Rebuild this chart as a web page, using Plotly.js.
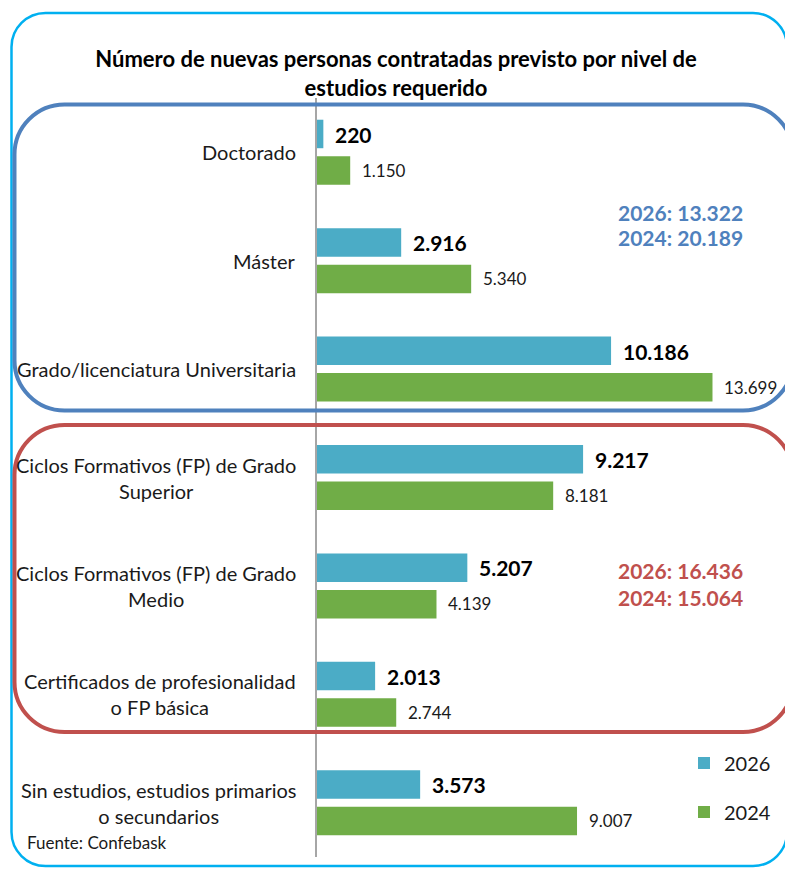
<!DOCTYPE html>
<html>
<head>
<meta charset="utf-8">
<script src="https://cdn.plot.ly/plotly-3.0.1.min.js"></script>
<style>
  html, body { margin: 0; padding: 0; background: #ffffff; }
  #chart { width: 785px; height: 870px; }
</style>
</head>
<body>
<div id="chart"></div>
<script>
// ---- DATA ----
const categories = [
  'Doctorado',
  'Máster',
  'Grado/licenciatura Universitaria',
  'Ciclos Formativos (FP) de Grado<br>Superior',
  'Ciclos Formativos (FP) de Grado<br>Medio',
  'Certificados de profesionalidad<br>o FP básica',
  'Sin estudios, estudios primarios<br>o secundarios'
];
const values2026 = [220, 2916, 10186, 9217, 5207, 2013, 3573];
const values2024 = [1150, 5340, 13699, 8181, 4139, 2744, 9007];
const seriesNames = ['2026', '2024'];
const groupTotals2026 = [13322, 16436];   // universitarios, FP
const groupTotals2024 = [20189, 15064];
const titleText = 'Número de nuevas personas contratadas previsto por nivel de<br>estudios requerido';
const sourceText = 'Fuente: Confebask';

// ---- STYLE / GEOMETRY ----
const W = 785, H = 870;
const M = {l: 317, r: 0, t: 98, b: 13};
const PW = W - M.l - M.r, PH = H - M.t - M.b;
const FONT = 'Lato, Carlito, Calibri, sans-serif';
const C2026 = '#4BACC6', C2024 = '#70AD47';

function px2x(px) { return (px - M.l) / PW; }
function py2y(py) { return 1 - (py - M.t) / PH; }
function fmt(v) { return String(v).replace(/\B(?=(\d{3})+(?!\d))/g, '.'); }

function roundRect(x0, y0, x1, y1, r) {
  const k = 0.5523 * r;
  const P = (x, y) => px2x(x).toFixed(5) + ',' + py2y(y).toFixed(5);
  return 'M' + P(x0 + r, y0) +
    ' L' + P(x1 - r, y0) +
    ' C' + P(x1 - r + k, y0) + ' ' + P(x1, y0 + r - k) + ' ' + P(x1, y0 + r) +
    ' L' + P(x1, y1 - r) +
    ' C' + P(x1, y1 - r + k) + ' ' + P(x1 - r + k, y1) + ' ' + P(x1 - r, y1) +
    ' L' + P(x0 + r, y1) +
    ' C' + P(x0 + r - k, y1) + ' ' + P(x0, y1 - r + k) + ' ' + P(x0, y1 - r) +
    ' L' + P(x0, y0 + r) +
    ' C' + P(x0, y0 + r - k) + ' ' + P(x0 + r - k, y0) + ' ' + P(x0 + r, y0) + ' Z';
}

const traces = [
  {type: 'bar', orientation: 'h', y: categories, x: values2026, name: seriesNames[0],
   marker: {color: C2026}, legend: 'legend', hoverinfo: 'skip'},
  {type: 'bar', orientation: 'h', y: categories, x: values2024, name: seriesNames[1],
   marker: {color: C2024}, legend: 'legend2', hoverinfo: 'skip'}
];

const annotations = [];
// category labels (centered multi-line, right-anchored)
categories.forEach((c) => {
  annotations.push({xref: 'paper', yref: 'y', x: px2x(298), y: c, xanchor: 'right', yanchor: 'middle',
    align: 'center', showarrow: false, text: c, font: {family: FONT, size: 20, color: '#1a1a1a'}});
});
// value labels
categories.forEach((c, i) => {
  annotations.push({xref: 'x', yref: 'y', x: values2026[i], y: c, xanchor: 'left', yanchor: 'middle',
    xshift: 10, yshift: 18, showarrow: false, text: '<b>' + fmt(values2026[i]) + '</b>',
    font: {family: FONT, size: 21, color: '#000000'}});
  annotations.push({xref: 'x', yref: 'y', x: values2024[i], y: c, xanchor: 'left', yanchor: 'middle',
    xshift: 10, yshift: -18, showarrow: false, text: fmt(values2024[i]),
    font: {family: FONT, size: 17, color: '#1a1a1a'}});
});
// group totals
const totalColors = ['#4F81BD', '#C0504D'];
const totalY = [[212, 238], [570, 597]];
for (let g = 0; g < 2; g++) {
  annotations.push({xref: 'paper', yref: 'paper', x: px2x(616), y: py2y(totalY[g][0]), xanchor: 'left', yanchor: 'middle',
    showarrow: false, text: '<b>' + seriesNames[0] + ': ' + fmt(groupTotals2026[g]) + '</b>',
    font: {family: FONT, size: 21, color: totalColors[g]}});
  annotations.push({xref: 'paper', yref: 'paper', x: px2x(616), y: py2y(totalY[g][1]), xanchor: 'left', yanchor: 'middle',
    showarrow: false, text: '<b>' + seriesNames[1] + ': ' + fmt(groupTotals2024[g]) + '</b>',
    font: {family: FONT, size: 21, color: totalColors[g]}});
}
// source
annotations.push({xref: 'paper', yref: 'paper', x: px2x(25), y: py2y(842), xanchor: 'left', yanchor: 'middle',
  showarrow: false, text: sourceText, font: {family: FONT, size: 17, color: '#1a1a1a'}});

const shapes = [
  {type: 'path', xref: 'paper', yref: 'paper', layer: 'above', path: roundRect(11.5, 13, 787, 866, 34),
   line: {color: '#00B0F0', width: 2.5}},
  {type: 'path', xref: 'paper', yref: 'paper', layer: 'above', path: roundRect(14.5, 104.5, 793, 410.5, 50),
   line: {color: '#4F81BD', width: 4}},
  {type: 'path', xref: 'paper', yref: 'paper', layer: 'above', path: roundRect(14.5, 425, 793, 732, 50),
   line: {color: '#C0504D', width: 4}}
];

const layout = {
  width: W, height: H, autosize: false,
  margin: M,
  paper_bgcolor: '#ffffff', plot_bgcolor: '#ffffff',
  font: {family: FONT, size: 20, color: '#1a1a1a'},
  title: {text: '<b>' + titleText + '</b>', xref: 'container', yref: 'container',
    x: 396 / W, xanchor: 'center', y: 1 - 67 / H, yanchor: 'middle',
    font: {family: FONT, size: 22, color: '#000000'}},
  barmode: 'group', bargap: 0.327, bargroupgap: 0.219,
  xaxis: {range: [0, PW / 0.02887], showgrid: false, zeroline: false, showticklabels: false,
    showline: false, ticks: '', fixedrange: true},
  yaxis: {type: 'category', autorange: 'reversed', showgrid: false, zeroline: false,
    showticklabels: false, ticks: '', showline: true, linecolor: '#A6A6A6', linewidth: 2, fixedrange: true},
  legend: {x: px2x(684), xanchor: 'left', y: py2y(763), yanchor: 'middle', bgcolor: 'rgba(0,0,0,0)',
    borderwidth: 0, font: {family: FONT, size: 20, color: '#1a1a1a'}},
  legend2: {x: px2x(684), xanchor: 'left', y: py2y(812), yanchor: 'middle', bgcolor: 'rgba(0,0,0,0)',
    borderwidth: 0, font: {family: FONT, size: 20, color: '#1a1a1a'}},
  showlegend: true,
  annotations: annotations,
  shapes: shapes
};

Plotly.newPlot('chart', traces, layout, {displayModeBar: false, staticPlot: true});
</script>
</body>
</html>
